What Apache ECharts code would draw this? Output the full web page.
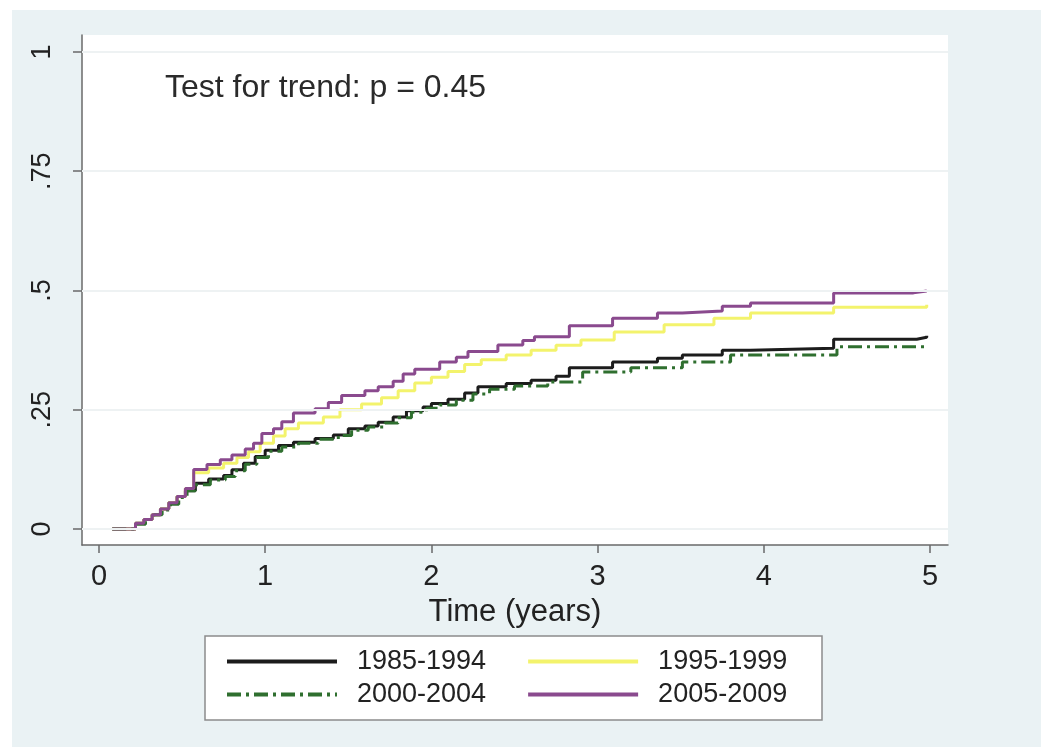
<!DOCTYPE html>
<html>
<head>
<meta charset="utf-8">
<script src="https://cdn.jsdelivr.net/npm/echarts@6/dist/echarts.min.js"></script>
<style>
  html, body { margin: 0; padding: 0; background: #ffffff; }
  #chart { width: 1043px; height: 751px; }
</style>
</head>
<body>
<div id="chart"></div>
<script>
// ---- data ----
const seriesNames = ['1985-1994', '1995-1999', '2000-2004', '2005-2009'];
const xTicks = [0, 1, 2, 3, 4, 5];
const yTicks = [0, 0.25, 0.5, 0.75, 1];
const yTickText = ['0', '.25', '.5', '.75', '1'];
const annotation = 'Test for trend: p = 0.45';
const xTitle = 'Time (years)';

const s1985 = [[0.08,0],[0.22,0.012],[0.27,0.02],[0.32,0.03],[0.37,0.042],[0.42,0.055],[0.47,0.068],[0.52,0.08],
  [0.58,0.096],[0.66,0.105],[0.75,0.112],[0.8,0.124],[0.87,0.138],[0.94,0.152],[1.0,0.165],[1.08,0.175],[1.17,0.182],
  [1.3,0.19],[1.41,0.197],[1.5,0.21],[1.6,0.216],[1.68,0.224],[1.77,0.235],[1.85,0.248],[1.95,0.256],[2.0,0.263],
  [2.1,0.272],[2.2,0.285],[2.28,0.298],[2.45,0.305],[2.6,0.312],[2.75,0.32],[2.83,0.338],[3.09,0.35],[3.36,0.358],
  [3.51,0.365],[3.75,0.375],[3.92,0.379],[4.42,0.398],[4.92,0.402],[4.98,0.405]];

const s1995 = [[0.08,0],[0.22,0.012],[0.27,0.02],[0.32,0.03],[0.37,0.042],[0.42,0.055],[0.47,0.068],[0.52,0.085],
  [0.57,0.118],[0.66,0.128],[0.75,0.138],[0.83,0.15],[0.9,0.162],[0.97,0.18],[1.05,0.195],[1.12,0.21],[1.2,0.222],
  [1.35,0.235],[1.45,0.25],[1.58,0.262],[1.7,0.275],[1.8,0.29],[1.9,0.306],[2.0,0.318],[2.1,0.33],[2.2,0.345],
  [2.3,0.355],[2.45,0.365],[2.6,0.375],[2.75,0.385],[2.9,0.396],[3.1,0.413],[3.4,0.428],[3.7,0.442],[3.92,0.453],
  [4.42,0.465],[4.98,0.47]];

const s2000 = [[0.08,0],[0.22,0.01],[0.28,0.02],[0.33,0.03],[0.38,0.04],[0.43,0.052],[0.48,0.066],[0.53,0.08],
  [0.58,0.093],[0.67,0.103],[0.76,0.11],[0.82,0.122],[0.88,0.136],[0.95,0.15],[1.02,0.163],[1.1,0.172],[1.2,0.18],
  [1.32,0.188],[1.44,0.196],[1.52,0.207],[1.62,0.214],[1.72,0.222],[1.8,0.233],[1.88,0.245],[1.97,0.253],[2.05,0.26],
  [2.15,0.27],[2.25,0.283],[2.35,0.293],[2.5,0.3],[2.7,0.308],[2.91,0.329],[3.2,0.338],[3.51,0.35],[3.8,0.365],
  [4.44,0.382],[4.97,0.386]];

const s2005 = [[0.08,0],[0.22,0.012],[0.27,0.02],[0.32,0.03],[0.37,0.042],[0.42,0.055],[0.47,0.068],[0.52,0.085],
  [0.57,0.125],[0.65,0.135],[0.73,0.145],[0.8,0.155],[0.88,0.168],[0.93,0.18],[0.98,0.2],[1.05,0.21],[1.1,0.225],
  [1.17,0.243],[1.3,0.252],[1.38,0.265],[1.46,0.28],[1.6,0.29],[1.68,0.298],[1.77,0.31],[1.83,0.325],[1.9,0.335],
  [2.05,0.35],[2.15,0.36],[2.22,0.372],[2.4,0.386],[2.55,0.395],[2.62,0.403],[2.83,0.426],[3.09,0.442],[3.36,0.453],
  [3.51,0.457],[3.75,0.467],[3.92,0.474],[4.42,0.495],[4.9,0.499],[4.98,0.5]];

const seriesData = [s1985, s1995, s2000, s2005];
const seriesColors = ['#1c1c1c', '#f3f36c', '#2f6f2f', '#8a4a8e'];
const seriesDash = ['solid', 'solid', [14, 5, 3, 5], 'solid'];

// ---- chart ----
const FONT = '"Liberation Sans", Arial, sans-serif';
const chart = echarts.init(document.getElementById('chart'), null, { renderer: 'canvas' });

const series = seriesNames.map((name, i) => ({
  name,
  type: 'line',
  step: 'end',
  showSymbol: false,
  symbol: 'none',
  animation: false,
  data: seriesData[i],
  lineStyle: { color: seriesColors[i], width: 3, type: seriesDash[i] },
  itemStyle: { color: seriesColors[i] },
  z: 3
}));

const legendCommon = {
  orient: 'horizontal',
  itemWidth: 110,
  itemHeight: 14,
  itemGap: 40,
  selectedMode: false,
  padding: 0,
  itemStyle: { color: 'rgba(0,0,0,0)', borderColor: 'rgba(0,0,0,0)', borderWidth: 0, opacity: 0 },
  lineStyle: { width: 4 },
  textStyle: { fontFamily: FONT, fontSize: 27, color: '#222', padding: [0, 0, 0, 15] }
};

chart.setOption({
  backgroundColor: '#ffffff',
  animation: false,
  grid: {
    left: 82, right: 95, top: 35, bottom: 206,
    show: true, backgroundColor: '#ffffff', borderWidth: 0
  },
  graphic: [
    { type: 'rect', z: -10, silent: true, shape: { x: 12, y: 10, width: 1029, height: 737 },
      style: { fill: '#eaf2f4' } },
    { type: 'rect', z: 1, silent: true, shape: { x: 205, y: 636, width: 617, height: 84 },
      style: { fill: '#ffffff', stroke: '#8c8c8c', lineWidth: 1.5 } },
    { type: 'text', z: 10, left: 165, top: 72,
      style: { text: annotation, font: '32px ' + FONT, fill: '#2a2a2a' } }
  ],
  legend: [
    Object.assign({}, legendCommon, { data: [seriesNames[0], seriesNames[1]], left: 225, top: 648, z: 5 }),
    Object.assign({}, legendCommon, { data: [seriesNames[2], seriesNames[3]], left: 225, top: 681, z: 5 })
  ],
  xAxis: {
    type: 'value',
    min: -0.102, max: 5.108,
    name: xTitle,
    nameLocation: 'middle',
    nameGap: 52,
    nameTextStyle: { fontFamily: FONT, fontSize: 31, color: '#222' },
    axisLine: { show: true, onZero: false, lineStyle: { color: '#6a6a6a', width: 1.5 } },
    axisTick: { show: true, length: 8, customValues: xTicks, lineStyle: { color: '#6a6a6a', width: 1.5 } },
    axisLabel: { customValues: xTicks, margin: 17, fontFamily: FONT, fontSize: 29, color: '#222',
      formatter: v => String(v) },
    splitLine: { show: false }
  },
  yAxis: {
    type: 'value',
    min: -0.0335, max: 1.0356,
    axisLine: { show: true, onZero: false, lineStyle: { color: '#6a6a6a', width: 1.5 } },
    axisTick: { show: true, length: 9, customValues: yTicks, lineStyle: { color: '#6a6a6a', width: 1.5 } },
    axisLabel: { customValues: yTicks, rotate: 90, margin: 26, fontFamily: FONT, fontSize: 27, color: '#222',
      formatter: v => { const k = yTicks.findIndex(t => Math.abs(t - v) < 1e-6); return k >= 0 ? yTickText[k] : ''; } },
    splitLine: { show: false }
  },
  series: series.concat([{
    type: 'line',
    data: [],
    silent: true,
    markLine: {
      silent: true,
      symbol: 'none',
      label: { show: false },
      lineStyle: { color: '#eef2f3', width: 2, type: 'solid' },
      data: yTicks.map(v => ({ yAxis: v }))
    },
    z: 1
  }])
});
</script>
</body>
</html>
